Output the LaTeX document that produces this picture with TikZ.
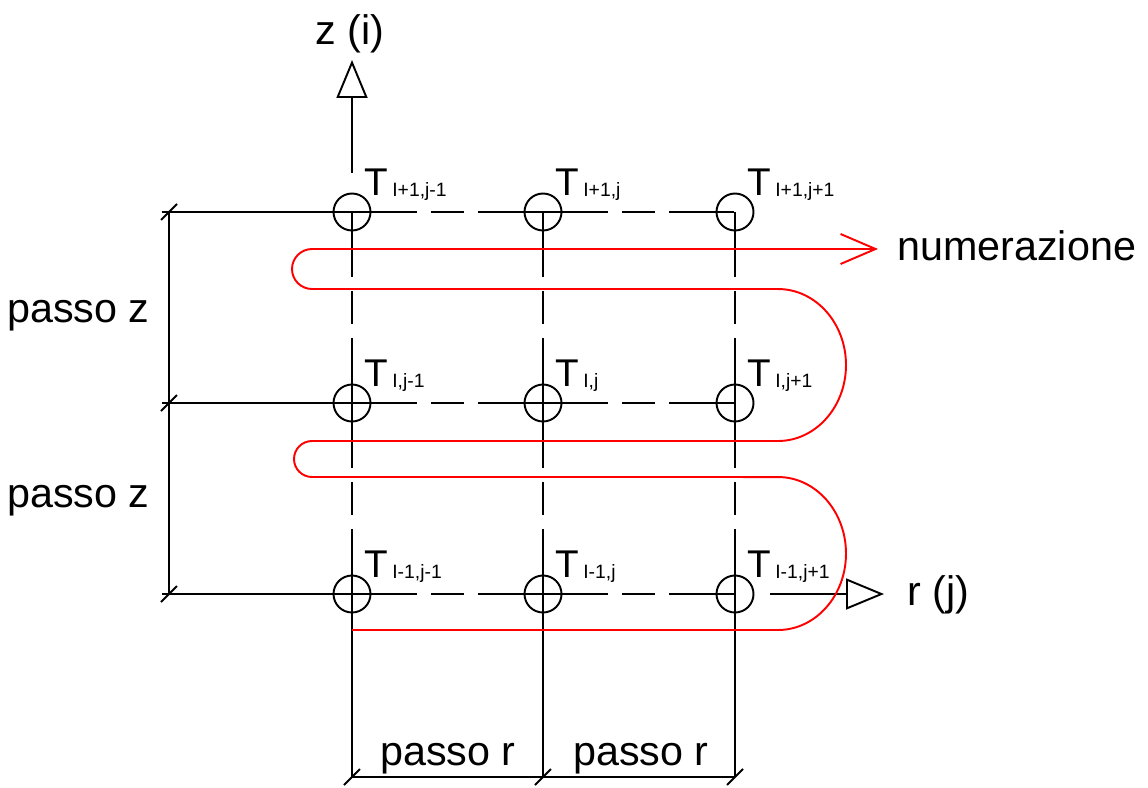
\documentclass[tikz,border=0pt]{standalone}
\usepackage{fontspec}
\setmainfont{Liberation Sans}
\usetikzlibrary{arrows.meta}

% T with its grid index, as on the drawing
\newcommand{\Tsub}[1]{T\kern2.5pt\raisebox{-0.8pt}{\fontsize{11}{11}\selectfont #1}}

\begin{document}
\begin{tikzpicture}[
    x=0.02cm, y=-0.02cm,
    every node/.style={inner sep=0pt},
    ln/.style={line width=1.1pt, black},
    pt/.style={circle, draw=black, line width=1.1pt, minimum size=0.74cm},
    tlbl/.style={anchor=base west, font=\fontsize{22}{22}\selectfont},
    txt/.style={font=\fontsize{23.5}{28}\selectfont},
    cline/.style={ln, dash pattern=on 1.3cm off 0.28cm on 0.66cm off 0.28cm on 1.3cm},
    axis/.style={ln, -{Triangle[open, length=0.76cm, width=0.62cm]}},
    numpath/.style={line width=1.1pt, red, -{Straight Barb[length=0.7cm, width=0.6cm]}},
  ]
  \useasboundingbox (0,0) rectangle (1148,787);
  % grid points, rows i+1, i, i-1 from the top
  \node[pt] (a1) at (352,212) {};
  \node[pt] (a2) at (543,212) {};
  \node[pt] (a3) at (735,212) {};
  \node[pt] (b1) at (352,403) {};
  \node[pt] (b2) at (543,403) {};
  \node[pt] (b3) at (735,403) {};
  \node[pt] (c1) at (352,594) {};
  \node[pt] (c2) at (543,594) {};
  \node[pt] (c3) at (735,594) {};
  \node[tlbl] (ta1) at ([shift={(12,-17)}]a1.center) {\Tsub{I+1,j-1}};
  \node[tlbl] (ta2) at ([shift={(12,-17)}]a2.center) {\Tsub{I+1,j}};
  \node[tlbl] (ta3) at ([shift={(12,-17)}]a3.center) {\Tsub{I+1,j+1}};
  \node[tlbl] (tb1) at ([shift={(12,-17)}]b1.center) {\Tsub{I,j-1}};
  \node[tlbl] (tb2) at ([shift={(12,-17)}]b2.center) {\Tsub{I,j}};
  \node[tlbl] (tb3) at ([shift={(12,-17)}]b3.center) {\Tsub{I,j+1}};
  \node[tlbl] (tc1) at ([shift={(12,-17)}]c1.center) {\Tsub{I-1,j-1}};
  \node[tlbl] (tc2) at ([shift={(12,-17)}]c2.center) {\Tsub{I-1,j}};
  \node[tlbl] (tc3) at ([shift={(12,-17)}]c3.center) {\Tsub{I-1,j+1}};
  % free ends of the lines
  \coordinate (l1) at (162,212);
  \coordinate (l2) at (162,403);
  \coordinate (l3) at (162,594);
  \coordinate (dl1) at (169,212);
  \coordinate (dl2) at (169,403);
  \coordinate (dl3) at (169,594);
  \coordinate (db1) at (352,777);
  \coordinate (db2) at (543,777);
  \coordinate (db3) at (735,777);
  \coordinate (zfoot) at (352,173);
  \coordinate (ztip) at (352,60);
  \coordinate (rfoot) at (770,594);
  \coordinate (rtip) at (884,594);
  \coordinate (ntip) at (878,249);
  % rows
  \draw[ln] (l1) -- (a1.center);
  \draw[ln] (l2) -- (b1.center);
  \draw[ln] (l3) -- (c1.center);
  \draw[cline] (a1.center) -- (a2.center);
  \draw[cline] (a2.center) -- (a3.center);
  \draw[cline] (b1.center) -- (b2.center);
  \draw[cline] (b2.center) -- (b3.center);
  \draw[cline] (c1.center) -- (c2.center);
  \draw[cline] (c2.center) -- (c3.center);
  % columns
  \draw[cline] (a1.center) -- (b1.center);
  \draw[cline] (b1.center) -- (c1.center);
  \draw[cline] (a2.center) -- (b2.center);
  \draw[cline] (b2.center) -- (c2.center);
  \draw[cline] (a3.center) -- (b3.center);
  \draw[cline] (b3.center) -- (c3.center);
  \draw[ln] (c1.center) -- (db1);
  \draw[ln] (c2.center) -- (db2);
  \draw[ln] (c3.center) -- (db3);
  % axes
  \draw[axis] (zfoot) -- (ztip);
  \draw[axis] (rfoot) -- (rtip);
  \node[txt, anchor=base] (zlbl) at (350,45) {z (i)};
  \node[txt, anchor=base west] (rlbl) at (907,605) {r (j)};
  % dimension lines
  \draw[ln] (dl1) -- (dl3);
  \draw[ln] (db1) -- (db3);
  \foreach \c in {dl1,dl2,dl3,db1,db2,db3}
    \draw[ln] ([shift={(-8,8)}]\c) -- ([shift={(8,-8)}]\c);
  \node[txt, anchor=base west] (pz1) at (7,322) {passo z};
  \node[txt, anchor=base west] (pz2) at (7,507) {passo z};
  \node[txt, anchor=base] (pr1) at (448,765) {passo r};
  \node[txt, anchor=base] (pr2) at (641,765) {passo r};
  % numbering order, snaking up row by row
  \draw[numpath] (352,630) -- (778,630)
    arc[start angle=-90, end angle=90, x radius=1.36cm, y radius=1.53cm]
    -- (312,477)
    arc[start angle=270, end angle=90, radius=0.36cm]
    -- (778,441)
    arc[start angle=-90, end angle=90, x radius=1.36cm, y radius=1.52cm]
    -- (312,289)
    arc[start angle=270, end angle=90, radius=0.4cm]
    -- (ntip);
  \node[txt, anchor=base west] (numlbl) at (897,260) {numerazione};
\end{tikzpicture}
\end{document}
